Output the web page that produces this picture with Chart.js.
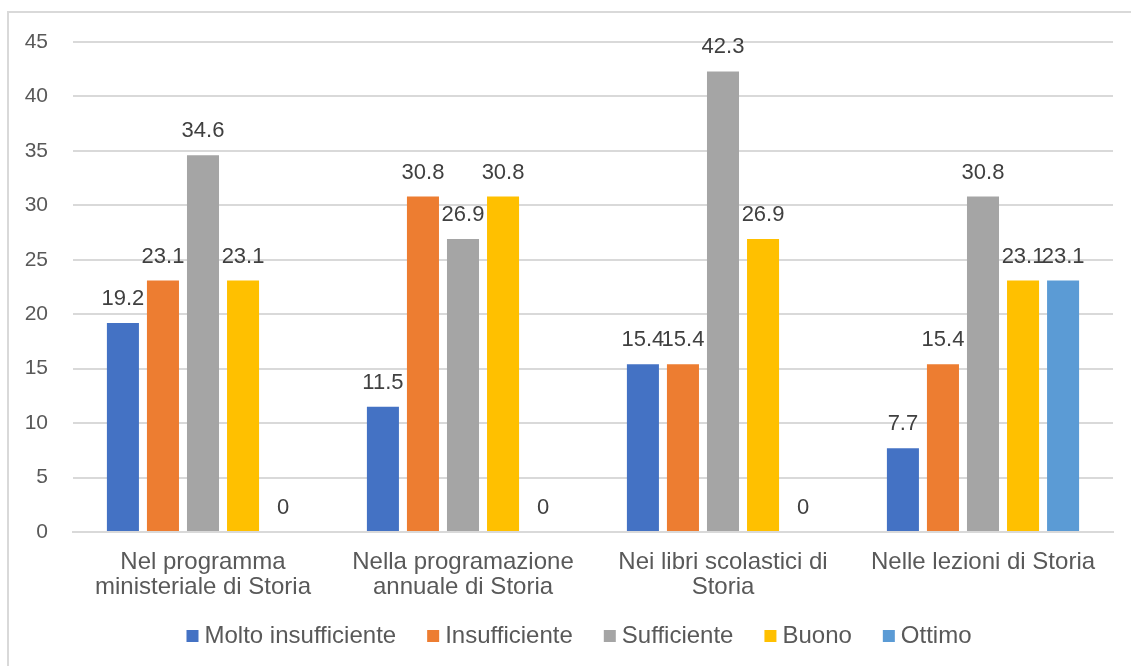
<!DOCTYPE html>
<html>
<head>
    <title>Valutazione Storia</title>
    <script src="https://cdn.jsdelivr.net/npm/chart.js"></script>
    <style>
        body { margin: 0; background: #fff; overflow: hidden; }
        .frame { position: absolute; left: 7px; top: 11px; width: 2000px; height: 2000px; border: 2px solid #d9d9d9; }
        .wrap { position: absolute; left: 0; top: 0; width: 1131px; height: 666px; }
    </style>
</head>
<body>
    <div class="frame"></div>
    <div class="wrap"><canvas id="myChart" width="1131" height="666"></canvas></div>
    <script>
const categories = [
    ['Nel programma', 'ministeriale di Storia'],
    ['Nella programazione', 'annuale di Storia'],
    ['Nei libri scolastici di', 'Storia'],
    ['Nelle lezioni di Storia']
];
const seriesNames = ['Molto insufficiente', 'Insufficiente', 'Sufficiente', 'Buono', 'Ottimo'];
const seriesColors = ['#4472C4', '#ED7D31', '#A5A5A5', '#FFC000', '#5B9BD5'];
const moltoInsufficiente = [19.2, 11.5, 15.4, 7.7];
const insufficiente = [23.1, 30.8, 15.4, 15.4];
const sufficiente = [34.6, 26.9, 42.3, 30.8];
const buono = [23.1, 30.8, 26.9, 23.1];
const ottimo = [0, 0, 0, 23.1];
const yTicks = [0, 5, 10, 15, 20, 25, 30, 35, 40, 45];

const seriesValues = [moltoInsufficiente, insufficiente, sufficiente, buono, ottimo];
const font = "'Liberation Sans', Arial, sans-serif";

// writes each value above its bar, zeros included
const valueLabels = {
    id: 'valueLabels',
    afterDatasetsDraw(chart) {
        const c = chart.ctx;
        c.save();
        c.font = '22px ' + font;
        c.fillStyle = '#404040';
        c.textAlign = 'center';
        c.textBaseline = 'middle';
        chart.data.datasets.forEach((ds, i) => {
            chart.getDatasetMeta(i).data.forEach((bar, j) => {
                c.fillText(String(ds.data[j]), bar.x, bar.y - 24);
            });
        });
        c.restore();
    }
};

// compact legend row under the axis: small square, short gap, label
const bottomLegend = {
    id: 'bottomLegend',
    afterDraw(chart) {
        const c = chart.ctx;
        const box = 12, gapText = 6, gapItem = 31;
        c.save();
        c.font = '24px ' + font;
        c.textBaseline = 'middle';
        const items = chart.data.datasets.map(ds => ({
            text: ds.label, color: ds.backgroundColor, w: c.measureText(ds.label).width
        }));
        const total = items.reduce((s, it) => s + box + gapText + it.w, 0) + gapItem * (items.length - 1);
        let x = 579 - total / 2;
        const y = 636;
        items.forEach(it => {
            c.fillStyle = it.color;
            c.fillRect(x, y - box / 2, box, box);
            x += box + gapText;
            c.fillStyle = '#595959';
            c.fillText(it.text, x, y);
            x += it.w + gapItem;
        });
        c.restore();
    }
};

const ctx = document.getElementById('myChart').getContext('2d');
new Chart(ctx, {
    type: 'bar',
    data: {
        labels: categories,
        datasets: seriesNames.map((name, i) => ({
            label: name,
            data: seriesValues[i],
            backgroundColor: seriesColors[i],
            categoryPercentage: 0.77,
            barPercentage: 0.8
        }))
    },
    options: {
        responsive: false,
        animation: false,
        layout: { padding: { top: 42, right: 18, left: 0, bottom: 52 } },
        plugins: {
            tooltip: { enabled: false },
            legend: { display: false }
        },
        scales: {
            x: {
                grid: { display: false },
                border: { color: '#d9d9d9', width: 2 },
                ticks: {
                    font: { size: 24, family: font, lineHeight: 1.05 },
                    color: '#595959',
                    padding: 10,
                    maxRotation: 0
                },
                afterFit(scale) { scale.height = 82; }
            },
            y: {
                min: 0,
                max: 45,
                afterBuildTicks(scale) { scale.ticks = yTicks.map(v => ({ value: v })); },
                grid: { color: '#d9d9d9', lineWidth: 2, drawTicks: false },
                border: { display: false },
                ticks: {
                    font: { size: 21, family: font },
                    color: '#595959',
                    padding: 25
                },
                afterFit(scale) { scale.width = 73; }
            }
        }
    },
    plugins: [valueLabels, bottomLegend]
});
    </script>
</body>
</html>
